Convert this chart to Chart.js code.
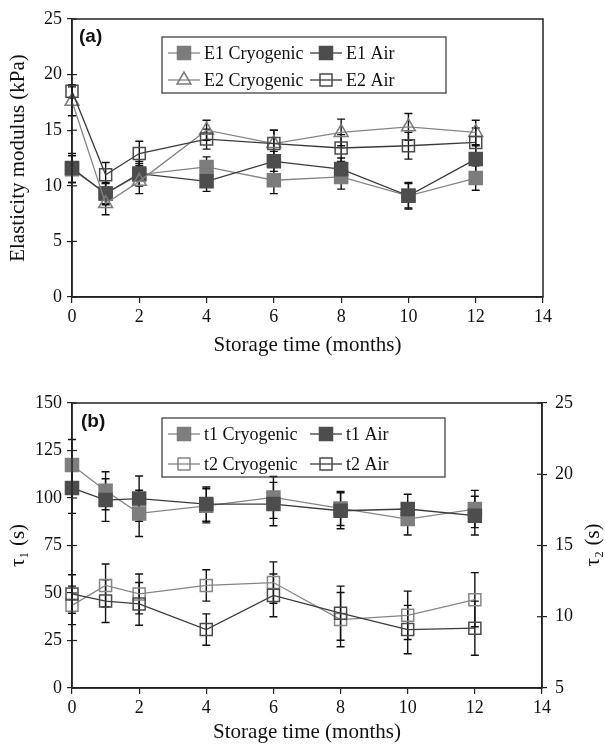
<!DOCTYPE html>
<html>
<head>
<meta charset="utf-8">
<script src="https://cdn.jsdelivr.net/npm/chart.js@4/dist/chart.umd.min.js"></script>
<style>
  html, body { margin: 0; padding: 0; background: #fff; }
  #wrap { position: relative; width: 605px; height: 745px; }
  canvas { position: absolute; left: 0; }
</style>
</head>
<body>
<div id="wrap">
  <canvas id="chartA" width="605" height="365" style="top:0"></canvas>
  <canvas id="chartB" width="605" height="380" style="top:365px"></canvas>
</div>
<script>
// storage time (months)
const MONTHS = [0, 1, 2, 4, 6, 8, 10, 12];
const X_TICKS = [0, 2, 4, 6, 8, 10, 12, 14];

// panel (a): elasticity modulus (kPa)
const E1_CRYO = [11.5, 9.3, 11.0, 11.7, 10.5, 10.8, 9.1, 10.7];
const E1_AIR = [11.6, 9.3, 11.1, 10.4, 12.2, 11.5, 9.1, 12.4];
const E2_CRYO = [17.6, 8.4, 10.4, 15.0, 13.8, 14.8, 15.3, 14.8];
const E2_AIR = [18.5, 11.0, 12.9, 14.2, 13.8, 13.4, 13.6, 13.9];
const E1_CRYO_ERR = [1.2, 0.9, 1.0, 0.9, 1.2, 1.1, 1.1, 1.1];
const E1_AIR_ERR = [1.3, 1.0, 1.1, 0.9, 0.9, 1.0, 1.2, 1.2];
const E2_CRYO_ERR = [1.3, 1.0, 1.1, 0.9, 1.2, 1.2, 1.2, 1.1];
const E2_AIR_ERR = [0.6, 1.1, 1.1, 0.9, 1.2, 1.2, 1.2, 1.3];

// panel (b): relaxation times tau1 (left axis), tau2 (right axis), seconds
const T1_CRYO = [117.4, 103.8, 91.9, 95.9, 100.3, 94.5, 88.9, 94.2];
const T1_AIR = [105.3, 98.9, 99.7, 96.8, 96.8, 93.3, 94.2, 90.7];
const T1_CRYO_ERR = [13.4, 10.0, 12.2, 9.0, 11.0, 9.0, 8.4, 9.8];
const T1_AIR_ERR = [13.4, 11.2, 11.9, 9.0, 11.4, 9.5, 7.8, 10.2];
const T2_CRYO = [10.8, 12.2, 11.6, 12.2, 12.4, 9.8, 10.1, 11.2];
const T2_AIR = [11.6, 11.1, 10.9, 9.1, 11.5, 10.25, 9.1, 9.2];
const T2_CRYO_ERR = [1.35, 1.5, 1.4, 1.1, 1.45, 1.9, 1.7, 1.9];
const T2_AIR_ERR = [1.35, 1.5, 1.5, 1.1, 1.5, 1.9, 1.7, 1.9];

const SERIF = "'Liberation Serif', 'Times New Roman', serif";
const SANS = "'Liberation Sans', Arial, sans-serif";
const INK = '#222';

const points = (ys) => MONTHS.map((m, i) => ({ x: m, y: ys[i] }));

function series(label, ys, errs, look) {
    return Object.assign({
        label: label,
        data: points(ys),
        errors: errs,
        borderWidth: 1.3,
        pointBorderWidth: 1.5,
        pointHoverRadius: 0,
        tension: 0,
        clip: false,
        yAxisID: 'y',
    }, look);
}

// error bars, drawn under the markers
const errorBars = {
    id: 'errorBars',
    beforeDatasetsDraw(chart) {
        const ctx = chart.ctx;
        const xs = chart.scales.x;
        ctx.save();
        ctx.strokeStyle = '#111';
        ctx.lineWidth = 1.4;
        chart.data.datasets.forEach((ds) => {
            if (!ds.errors) return;
            const ys = chart.scales[ds.yAxisID];
            ds.data.forEach((p, i) => {
                const e = ds.errors[i];
                const px = xs.getPixelForValue(p.x);
                const top = ys.getPixelForValue(p.y + e);
                const bot = ys.getPixelForValue(p.y - e);
                ctx.beginPath();
                ctx.moveTo(px, top); ctx.lineTo(px, bot);
                ctx.moveTo(px - 4, top); ctx.lineTo(px + 4, top);
                ctx.moveTo(px - 4, bot); ctx.lineTo(px + 4, bot);
                ctx.stroke();
            });
        });
        ctx.restore();
    }
};

// frame, inner ticks, panel letter, boxed legend, rotated right title
const decor = {
    id: 'decor',
    afterDraw(chart, args, opts) {
        const ctx = chart.ctx;
        const a = chart.chartArea;
        ctx.save();
        ctx.strokeStyle = INK;
        ctx.lineWidth = 1.5;
        ctx.strokeRect(a.left, a.top, a.right - a.left, a.bottom - a.top);

        // y ticks cross into the plot
        ctx.lineWidth = 1.2;
        ['y', 'y1'].forEach((id) => {
            const s = chart.scales[id];
            if (!s) return;
            const edge = s.position === 'right' ? a.right : a.left;
            const dir = s.position === 'right' ? -1 : 1;
            s.ticks.forEach((t) => {
                const py = s.getPixelForValue(t.value);
                ctx.beginPath();
                ctx.moveTo(edge, py);
                ctx.lineTo(edge + dir * 5, py);
                ctx.stroke();
            });
        });

        ctx.fillStyle = '#111';
        ctx.font = 'bold 19px ' + SANS;
        ctx.textBaseline = 'middle';
        ctx.textAlign = 'left';
        ctx.fillText(opts.panel, opts.panelX, opts.panelY);

        const b = opts.box;
        ctx.strokeStyle = '#333';
        ctx.lineWidth = 1.2;
        ctx.strokeRect(b.x, b.y, b.w, b.h);
        ctx.font = '18px ' + SERIF;
        opts.items.forEach((it) => {
            const ds = chart.data.datasets[it.index];
            ctx.strokeStyle = ds.borderColor;
            ctx.lineWidth = ds.borderWidth;
            ctx.beginPath();
            ctx.moveTo(it.x - 16, it.y);
            ctx.lineTo(it.x + 16, it.y);
            ctx.stroke();
            ctx.fillStyle = ds.pointBackgroundColor;
            ctx.strokeStyle = ds.pointBorderColor;
            ctx.lineWidth = ds.pointBorderWidth;
            Chart.helpers.drawPoint(ctx, {
                pointStyle: ds.pointStyle, radius: ds.pointRadius,
                borderWidth: ds.pointBorderWidth, rotation: 0
            }, it.x, it.y);
            ctx.fillStyle = '#111';
            ctx.fillText(ds.label, it.x + 20, it.y + 1);
        });

        if (opts.rightTitle) {
            const r = opts.rightTitle;
            ctx.translate(r.x, r.y);
            ctx.rotate(-Math.PI / 2);
            ctx.textAlign = 'center';
            ctx.font = '21px ' + SERIF;
            ctx.fillText(r.text, 0, 0);
        }
        ctx.restore();
    }
};

function xScale(height, titlePad) {
    return {
        type: 'linear', min: 0, max: 14,
        afterBuildTicks: (s) => { s.ticks = X_TICKS.map((v) => ({ value: v })); },
        afterFit: (s) => { s.height = height; },
        ticks: { color: '#111', font: { family: SERIF, size: 18 }, padding: 3, maxRotation: 0 },
        grid: { display: true, drawOnChartArea: false, tickLength: 6, color: INK, lineWidth: 1.2 },
        border: { display: true, color: INK, width: 1.5 },
        title: {
            display: true, text: 'Storage time (months)', color: '#111',
            font: { family: SERIF, size: 21 }, padding: { top: 0, bottom: titlePad }
        }
    };
}

function yScale(min, max, step, width, side, title) {
    return {
        type: 'linear', position: side, min: min, max: max,
        afterFit: (s) => { s.width = width; },
        ticks: { stepSize: step, color: '#111', font: { family: SERIF, size: 18 }, padding: side === 'left' ? 5 : 8 },
        grid: { display: true, drawOnChartArea: false, tickLength: 5, color: INK, lineWidth: 1.2 },
        border: { display: true, color: INK, width: 1.5 },
        title: {
            display: !!title, text: title || '', color: '#111',
            font: { family: SERIF, size: 21 }, padding: { top: 6, bottom: 0 }
        }
    };
}

const square = (fill, stroke, line) => ({
    pointStyle: 'rect', pointRadius: 9.2,
    pointBackgroundColor: fill, pointBorderColor: stroke, borderColor: line
});
const openSquare = (stroke, line) => ({
    pointStyle: 'rect', pointRadius: 8.5,
    pointBackgroundColor: 'rgba(0,0,0,0)', pointBorderColor: stroke, borderColor: line
});
const openTriangle = (stroke, line) => ({
    pointStyle: 'triangle', pointRadius: 8,
    pointBackgroundColor: 'rgba(0,0,0,0)', pointBorderColor: stroke, borderColor: line
});

// panel (a)
new Chart(document.getElementById('chartA'), {
    type: 'line',
    data: {
        datasets: [
            series('E2 Air', E2_AIR, E2_AIR_ERR, openSquare('#4a4a4a', '#3a3a3a')),
            series('E2 Cryogenic', E2_CRYO, E2_CRYO_ERR, openTriangle('#7a7a7a', '#858585')),
            series('E1 Air', E1_AIR, E1_AIR_ERR, square('#4d4d4d', '#4d4d4d', '#3a3a3a')),
            series('E1 Cryogenic', E1_CRYO, E1_CRYO_ERR, square('#7c7c7c', '#7c7c7c', '#858585')),
        ]
    },
    options: {
        responsive: false,
        animation: false,
        layout: { padding: { top: 19, right: 62, left: 0, bottom: 0 } },
        scales: {
            x: xScale(68, 7),
            y: yScale(0, 25, 5, 72, 'left', 'Elasticity modulus (kPa)'),
        },
        plugins: {
            legend: { display: false },
            tooltip: { enabled: false },
            decor: {
                panel: '(a)', panelX: 79, panelY: 37,
                box: { x: 162, y: 37, w: 284, h: 56 },
                items: [
                    { index: 3, x: 184, y: 53 },
                    { index: 2, x: 326, y: 53 },
                    { index: 1, x: 184, y: 80 },
                    { index: 0, x: 326, y: 80 },
                ]
            }
        }
    },
    plugins: [errorBars, decor]
});

// panel (b)
new Chart(document.getElementById('chartB'), {
    type: 'line',
    data: {
        datasets: [
            series('t2 Air', T2_AIR, T2_AIR_ERR, Object.assign(openSquare('#4a4a4a', '#3a3a3a'), { yAxisID: 'y1' })),
            series('t2 Cryogenic', T2_CRYO, T2_CRYO_ERR, Object.assign(openSquare('#858585', '#858585'), { yAxisID: 'y1' })),
            series('t1 Air', T1_AIR, T1_AIR_ERR, square('#4d4d4d', '#4d4d4d', '#3a3a3a')),
            series('t1 Cryogenic', T1_CRYO, T1_CRYO_ERR, square('#7e7e7e', '#7e7e7e', '#858585')),
        ]
    },
    options: {
        responsive: false,
        animation: false,
        layout: { padding: { top: 38, right: 0, left: 0, bottom: 0 } },
        scales: {
            x: xScale(57, 0),
            y: yScale(0, 150, 25, 72, 'left', 'τ₁ (s)'),
            y1: yScale(5, 25, 5, 63, 'right', null),
        },
        plugins: {
            legend: { display: false },
            tooltip: { enabled: false },
            decor: {
                panel: '(b)', panelX: 81, panelY: 57,
                box: { x: 162, y: 53, w: 283, h: 59 },
                items: [
                    { index: 3, x: 184, y: 69 },
                    { index: 2, x: 326, y: 69 },
                    { index: 1, x: 184, y: 99 },
                    { index: 0, x: 326, y: 99 },
                ],
                rightTitle: { text: 'τ₂ (s)', x: 593, y: 180 }
            }
        }
    },
    plugins: [errorBars, decor]
});
</script>
</body>
</html>
